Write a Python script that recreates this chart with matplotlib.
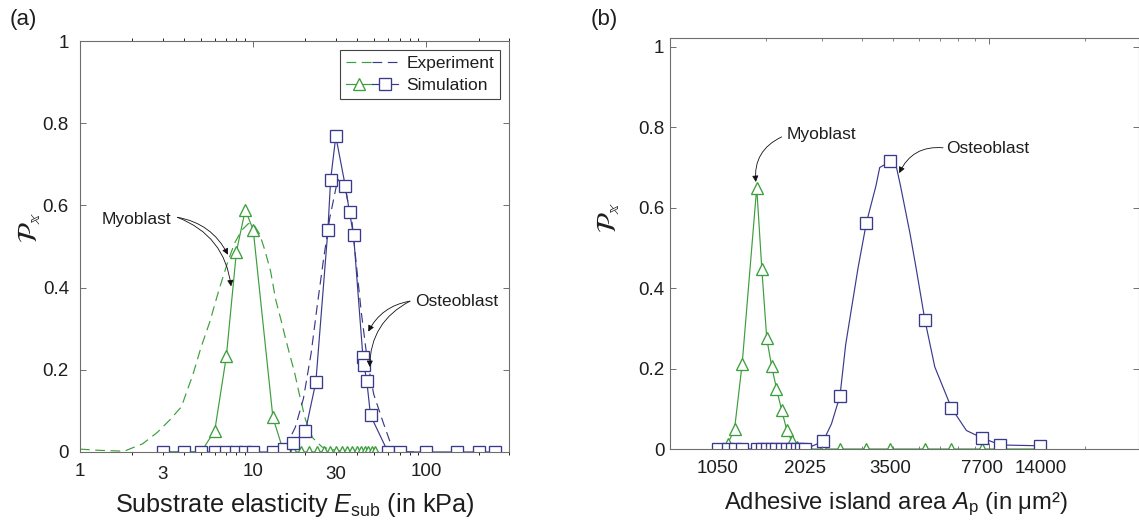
import numpy as np
import matplotlib
matplotlib.use('Agg')
import matplotlib.pyplot as plt
from matplotlib.lines import Line2D
from matplotlib.legend_handler import HandlerTuple
from matplotlib.ticker import FixedLocator, LogLocator, FuncFormatter, NullFormatter

plt.rcParams['font.family'] = ['Liberation Sans', 'DejaVu Sans']
plt.rcParams['mathtext.fontset'] = 'custom'
plt.rcParams['mathtext.rm'] = 'Liberation Sans'
plt.rcParams['mathtext.it'] = 'Liberation Sans:italic'
plt.rcParams['lines.scale_dashes'] = False

GREEN = '#3c9e3c'
BLUE = '#3a3a8a'
GREY = '#6e6e6e'
INK = '#1e1e1e'

# ---- (a) probability vs substrate elasticity (kPa) ----
E_exp_myo = [1.0, 1.3, 1.8, 2.3, 2.8, 3.3, 3.85, 4.5, 5.0, 5.6, 6.35, 7.1, 7.8, 8.6, 9.4,
             10.2, 10.9, 11.7, 12.6, 13.5, 14.5, 15.3, 16.3, 17.3, 18.6, 20.0, 22.0, 25.0, 30.0, 37.0]
P_exp_myo = [0.007, 0.004, 0.002, 0.02, 0.048, 0.078, 0.11, 0.19, 0.255, 0.315, 0.395, 0.46, 0.508,
             0.54, 0.556, 0.55, 0.53, 0.49, 0.44, 0.37, 0.32, 0.28, 0.235, 0.195, 0.135, 0.08,
             0.035, 0.012, 0.004, 0.0]

E_exp_ost = [15.3, 17.5, 19.5, 21.6, 23.5, 25.5, 27.7, 30.8, 34.2, 37.2, 40.0, 42.1, 45.7,
             49.7, 56.3, 62.5, 66.5, 100.0]
P_exp_ost = [0.01, 0.06, 0.13, 0.24, 0.36, 0.47, 0.57, 0.664, 0.636, 0.56, 0.43, 0.34, 0.22,
             0.14, 0.072, 0.018, 0.0, 0.0]

E_sim_myo = [3, 4, 5, 6, 7, 8, 9, 10, 13, 15, 17, 19, 21, 23.5, 25.5, 27.7, 30, 32.5, 35, 37,
             39.5, 41.7, 44, 46, 48.3, 50.3]
P_sim_myo = [0, 0, 0, 0.052, 0.233, 0.487, 0.589, 0.541, 0.084, 0, 0, 0, 0, 0, 0, 0, 0, 0,
             0, 0, 0, 0, 0, 0, 0, 0]

E_sim_ost = [3, 4, 5, 6, 7, 8, 9, 10, 13, 15, 17, 20, 23, 27, 28, 30, 34, 36, 38, 43, 43.6,
             45.3, 47.6, 60, 70, 100, 150, 200, 250]
P_sim_ost = [0, 0, 0, 0, 0, 0, 0, 0, 0, 0.007, 0.022, 0.05, 0.17, 0.54, 0.663, 0.768, 0.648,
             0.583, 0.527, 0.232, 0.212, 0.172, 0.089, 0, 0, 0, 0, 0, 0]

E_major = [1, 10, 100]
E_minor_labelled = [3, 30]

# ---- (b) probability vs adhesive island area (um^2) ----
A_grid = [1050, 1130, 1190, 1260, 1405, 1460, 1515, 1570, 1630, 1695, 1760, 1825, 1895, 1955,
          2025, 2270, 2530, 3000, 3500, 4710, 5920, 7700, 9300, 14000]
P_myo_b = [0, 0.0125, 0.05, 0.2125, 0.65, 0.4475, 0.275, 0.2075, 0.15, 0.096, 0.048, 0.02,
           0.006, 0, 0, 0, 0, 0, 0, 0, 0, 0, 0, 0]
P_ost_b = [0, 0, 0, 0, 0, 0, 0, 0, 0, 0, 0, 0, 0, 0, 0, 0.019, 0.132, 0.563, 0.715, 0.321,
           0.102, 0.0275, 0.01, 0.008]

# smooth osteoblast fit curve
A_ost_line = [1050, 1130, 1190, 1260, 1405, 1460, 1515, 1570, 1630, 1695, 1760, 1825, 1895,
              1955, 2025, 2270, 2395, 2530, 2625, 2842, 3000, 3189, 3268, 3500, 3690, 3820,
              4140, 4357, 4710, 5130, 5920, 6732, 7700, 9300, 14000]
P_ost_line = [0, 0, 0, 0, 0, 0, 0, 0, 0, 0, 0, 0, 0, 0, 0, 0.019, 0.0625, 0.132, 0.26, 0.45,
              0.563, 0.654, 0.70, 0.715, 0.70, 0.654, 0.5375, 0.454, 0.321, 0.204, 0.102,
              0.046, 0.0275, 0.01, 0.008]

A_ticks = [1050, 2025, 3500, 7700, 14000]

# non-uniform area axis: log-area mapped piecewise onto decades of the frame
knot_area = np.log10(A_ticks)
knot_pos = np.array([0.150, 0.424, 0.69, 0.977, 1.16])
SPAN_B = 1.467


def area_fwd(a):
    la = np.log10(np.clip(np.asarray(a, float), 1e-6, None))
    out = np.interp(la, knot_area, knot_pos)
    s0 = (knot_pos[1] - knot_pos[0]) / (knot_area[1] - knot_area[0])
    s1 = (knot_pos[-1] - knot_pos[-2]) / (knot_area[-1] - knot_area[-2])
    out = np.where(la < knot_area[0], knot_pos[0] + (la - knot_area[0]) * s0, out)
    out = np.where(la > knot_area[-1], knot_pos[-1] + (la - knot_area[-1]) * s1, out)
    return out


def area_inv(p):
    p = np.asarray(p, float)
    la = np.interp(p, knot_pos, knot_area)
    s0 = (knot_area[1] - knot_area[0]) / (knot_pos[1] - knot_pos[0])
    s1 = (knot_area[-1] - knot_area[-2]) / (knot_pos[-1] - knot_pos[-2])
    la = np.where(p < knot_pos[0], knot_area[0] + (p - knot_pos[0]) * s0, la)
    la = np.where(p > knot_pos[-1], knot_area[-1] + (p - knot_pos[-1]) * s1, la)
    return 10 ** la


fig = plt.figure(figsize=(11.39, 5.23), dpi=100)
axa = fig.add_axes([80 / 1139, 71 / 523, 429 / 1139, 411 / 523])
axb = fig.add_axes([670 / 1139, 74 / 523, 468.5 / 1139, 411 / 523])

lw = 0.85
mk = dict(markersize=8, markerfacecolor='white', markeredgewidth=0.95)
dash = (0, (7, 4))


def frame(ax):
    for s in ax.spines.values():
        s.set_color(GREY)
        s.set_linewidth(0.8)
    ax.tick_params(colors=GREY, labelcolor=INK, labelsize=13.5, direction='in')
    ax.tick_params(axis='y', which='both', left=True, right=True, length=4.5, width=0.7)


# ---- panel (a) ----
axa.plot(E_exp_myo, P_exp_myo, color=GREEN, lw=lw, linestyle=dash, zorder=2)
axa.plot(E_exp_ost, P_exp_ost, color=BLUE, lw=lw, linestyle=dash, zorder=2)
axa.plot(E_sim_ost, P_sim_ost, color=BLUE, lw=lw, zorder=2.2)
axa.plot(E_sim_myo, P_sim_myo, color=GREEN, lw=lw, zorder=2.3)
axa.plot(E_sim_myo, P_sim_myo, ls='none', marker='^', markeredgecolor=GREEN, zorder=2.4, **mk)
axa.plot(E_sim_ost, P_sim_ost, ls='none', marker='s', markeredgecolor=BLUE, zorder=2.5, **mk)

axa.set_xscale('log')
axa.set_xlim(1, 300)
axa.set_ylim(0, 1)
frame(axa)
axa.xaxis.set_major_locator(FixedLocator(E_major))
axa.xaxis.set_major_formatter(FuncFormatter(lambda v, pos: f'{v:g}'))
axa.xaxis.set_minor_locator(LogLocator(subs=np.arange(2, 10)))
axa.xaxis.set_minor_formatter(
    FuncFormatter(lambda v, pos: f'{v:g}' if any(abs(v - m) < 1e-6 * m for m in E_minor_labelled) else ''))
axa.tick_params(axis='x', which='both', top=True, bottom=True, pad=8)
axa.tick_params(axis='x', which='major', length=4.5, width=0.7)
axa.tick_params(axis='x', which='minor', length=2.2, width=0.6, labelsize=13.5, labelcolor=INK)
axa.tick_params(axis='y', pad=8)
axa.set_yticks([0, 0.2, 0.4, 0.6, 0.8, 1])
axa.set_yticklabels(['0', '0.2', '0.4', '0.6', '0.8', '1'])

axa.set_xlabel(r'Substrate elasticity $E_{\mathrm{sub}}$ (in kPa)', fontsize=18.2, color=INK)
axa.xaxis.set_label_coords(0.5, -0.095)
axa.set_ylabel(r'$\mathcal{P}_{\mathbb{x}}$', fontsize=20, color=INK, math_fontfamily='stix')
axa.yaxis.set_label_coords(-0.085, 0.547)

h_exp = (Line2D([], [], color=GREEN, lw=lw, linestyle=dash),
         Line2D([], [], color=BLUE, lw=lw, linestyle=dash))
h_sim = (Line2D([], [], color=GREEN, lw=lw, marker='^', markeredgecolor=GREEN, **mk),
         Line2D([], [], color=BLUE, lw=lw, marker='s', markeredgecolor=BLUE, **mk))
leg = axa.legend([h_exp, h_sim], ['Experiment', 'Simulation'],
                 handler_map={tuple: HandlerTuple(ndivide=None, pad=0)},
                 loc='upper right', bbox_to_anchor=(0.979, 0.978), fontsize=12.5,
                 handlelength=3.0, handletextpad=0.45, labelspacing=0.38,
                 borderpad=0.35, borderaxespad=0, fancybox=False, framealpha=1,
                 edgecolor='#444444', numpoints=1)
leg.get_frame().set_linewidth(0.8)
for t in leg.get_texts():
    t.set_color(INK)

arrow = dict(arrowstyle='-|>', color='#111111', lw=0.6, mutation_scale=9,
             shrinkA=0, shrinkB=0)
axa.text(1.33, 0.566, 'Myoblast', fontsize=12.5, color=INK, ha='left', va='center')
axa.annotate('', xy=(7.15, 0.48), xytext=(3.65, 0.571),
             arrowprops=dict(connectionstyle='arc3,rad=-0.25', **arrow))
axa.annotate('', xy=(7.45, 0.403), xytext=(3.65, 0.571),
             arrowprops=dict(connectionstyle='arc3,rad=-0.3', **arrow))
axa.text(86, 0.367, 'Osteoblast', fontsize=12.5, color=INK, ha='left', va='center')
axa.annotate('', xy=(46.2, 0.293), xytext=(80.4, 0.367),
             arrowprops=dict(connectionstyle='arc3,rad=0.25', **arrow))
axa.annotate('', xy=(47.1, 0.207), xytext=(80.4, 0.367),
             arrowprops=dict(connectionstyle='arc3,rad=0.3', **arrow))

# ---- panel (b) ----
axb.set_xscale('function', functions=(area_fwd, area_inv))
axb.plot(A_grid, P_myo_b, color=GREEN, lw=lw, zorder=2)
axb.plot(A_ost_line, P_ost_line, color=BLUE, lw=lw, zorder=2.1)
axb.plot(A_grid, P_myo_b, ls='none', marker='^', markeredgecolor=GREEN, zorder=2.3, **mk)
axb.plot(A_grid, P_ost_b, ls='none', marker='s', markeredgecolor=BLUE, zorder=2.4, **mk)
axb.set_xlim(area_inv(0.0), area_inv(SPAN_B))
axb.set_ylim(0, 1.022)
frame(axb)
axb.set_xticks(A_ticks)
axb.set_xticklabels([str(a) for a in A_ticks])
axb.xaxis.set_minor_locator(FixedLocator([]))
axb.tick_params(axis='x', which='major', length=0, pad=8)
axb.tick_params(axis='y', pad=4)
axb.set_yticks([0, 0.2, 0.4, 0.6, 0.8, 1])
axb.set_yticklabels(['0', '0.2', '0.4', '0.6', '0.8', '1'])

# plain log ticks along the frame
axt = axb.twiny()
axt.set_xscale('log')
axt.set_xlim(1, 10 ** SPAN_B)
axt.xaxis.set_minor_locator(LogLocator(subs=np.arange(2, 10)))
axt.xaxis.set_minor_formatter(NullFormatter())
axt.tick_params(axis='x', which='both', direction='in', top=True, bottom=True,
                labeltop=False, labelbottom=False, colors=GREY)
axt.tick_params(axis='x', which='major', length=4.5, width=0.7)
axt.tick_params(axis='x', which='minor', length=2.2, width=0.6)
for s in axt.spines.values():
    s.set_visible(False)

axb.set_xlabel(r'Adhesive island area $A_{\mathrm{p}}$ (in μm²)', fontsize=17.2, color=INK)
axb.xaxis.set_label_coords(0.482, -0.102)
axb.set_ylabel(r'$\mathcal{P}_{\mathbb{x}}$', fontsize=20, color=INK, math_fontfamily='stix')
axb.yaxis.set_label_coords(-0.102, 0.564)

axb.text(1758, 0.781, 'Myoblast', fontsize=12.5, color=INK, ha='left', va='center')
axb.annotate('', xy=(1396, 0.664), xytext=(1694, 0.776),
             arrowprops=dict(connectionstyle='arc3,rad=0.35', **arrow))
axb.text(5672, 0.746, 'Osteoblast', fontsize=12.5, color=INK, ha='left', va='center')
axb.annotate('', xy=(3777, 0.686), xytext=(5507, 0.749),
             arrowprops=dict(connectionstyle='arc3,rad=0.35', **arrow))

fig.text(23 / 1139, 1 - 20 / 523, '(a)', fontsize=16, color=INK, ha='center', va='center')
fig.text(604 / 1139, 1 - 20 / 523, '(b)', fontsize=16, color=INK, ha='center', va='center')

fig.savefig('out.png', dpi=100, facecolor='white')
